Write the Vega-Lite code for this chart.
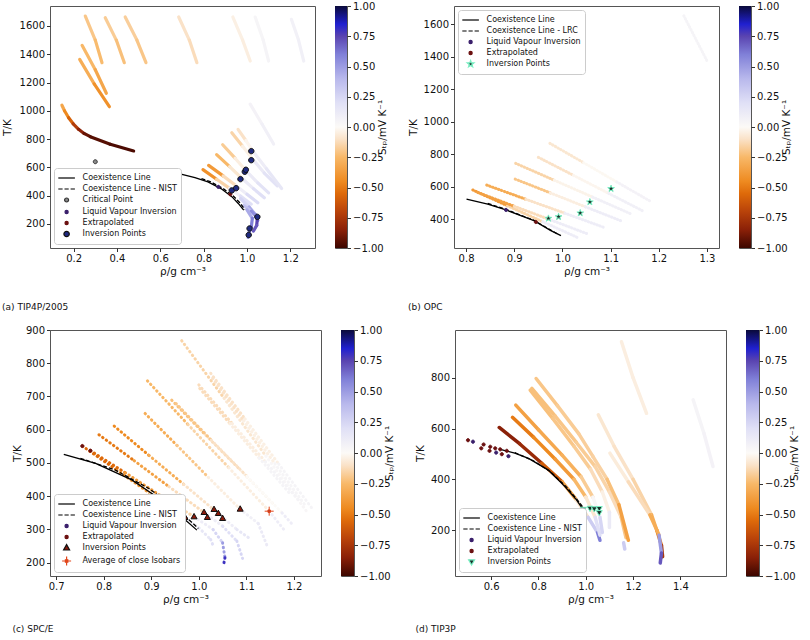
{
"$schema":"https://vega.github.io/schema/vega-lite/v6.json",
"background":"white",
"padding":{"left":1,"top":0,"right":0,"bottom":0},
"config":{
 "font":"DejaVu Sans",
 "view":{"stroke":"#555555","strokeWidth":1},
 "axis":{"grid":false,"domain":false,"labelFont":"DejaVu Sans","labelFontSize":10,"labelColor":"#111111","titleFont":"DejaVu Sans","titleFontSize":10.5,"titleFontWeight":"normal","titleColor":"#111111","tickColor":"#333333","tickSize":3.5,"labelPadding":2,"labelFlush":false,"labelOverlap":false},
 "axisX":{"titlePadding":3},
 "axisY":{"titlePadding":5},
 "legend":{"orient":"bottom-left","offset":4,"padding":4,"rowPadding":1,"fillColor":"white","strokeColor":"#cccccc","cornerRadius":3,"labelFont":"DejaVu Sans","labelFontSize":8,"labelColor":"#111111","labelOffset":10,"symbolOffset":2.6,"symbolSize":100,"symbolStrokeWidth":1.2,"labelLimit":300},
 "title":{"font":"DejaVu Sans","fontSize":9,"fontWeight":"normal","color":"#111111","orient":"bottom","anchor":"start","frame":"bounds","offset":26}
},
"datasets":{
 "isoA":[
  {"x":0.254,"y":1670,"x2":0.300,"y2":1500,"s":-0.2},{"x":0.300,"y":1500,"x2":0.331,"y2":1340,"s":-0.24},
  {"x":0.346,"y":1658,"x2":0.397,"y2":1500,"s":-0.18},{"x":0.397,"y":1500,"x2":0.434,"y2":1340,"s":-0.22},
  {"x":0.438,"y":1663,"x2":0.492,"y2":1500,"s":-0.17},{"x":0.492,"y":1500,"x2":0.534,"y2":1340,"s":-0.2},
  {"x":0.685,"y":1663,"x2":0.734,"y2":1500,"s":-0.1},{"x":0.734,"y":1500,"x2":0.769,"y2":1340,"s":-0.12},
  {"x":0.935,"y":1663,"x2":0.98,"y2":1500,"s":-0.04},{"x":0.98,"y":1500,"x2":1.015,"y2":1352,"s":-0.05},
  {"x":1.038,"y":1663,"x2":1.075,"y2":1500,"s":0.04},{"x":1.075,"y":1500,"x2":1.10,"y2":1352,"s":0.05},
  {"x":1.205,"y":1647,"x2":1.238,"y2":1500,"s":0.07},{"x":1.238,"y":1500,"x2":1.262,"y2":1352,"s":0.08},
  {"x":0.239,"y":1463,"x2":0.30,"y2":1290,"s":-0.25},{"x":0.30,"y":1290,"x2":0.351,"y2":1124,"s":-0.33},
  {"x":0.228,"y":1364,"x2":0.295,"y2":1190,"s":-0.3},{"x":0.295,"y":1190,"x2":0.365,"y2":1029,"s":-0.42},
  {"x":0.146,"y":1039,"x2":0.158,"y2":1000,"s":-0.33},{"x":0.158,"y":1000,"x2":0.177,"y2":951,"s":-0.45},
  {"x":0.177,"y":951,"x2":0.198,"y2":908,"s":-0.58},{"x":0.198,"y":908,"x2":0.223,"y2":869,"s":-0.72},
  {"x":0.223,"y":869,"x2":0.248,"y2":840,"s":-0.84},{"x":0.248,"y":840,"x2":0.277,"y2":817,"s":-0.92},
  {"x":0.277,"y":817,"x2":0.369,"y2":763,"s":-0.95},{"x":0.369,"y":763,"x2":0.477,"y2":716,"s":-0.97},
  {"x":0.797,"y":584,"x2":0.86,"y2":516,"s":-0.42},{"x":0.86,"y":516,"x2":0.92,"y2":452,"s":-0.15},{"x":0.92,"y":452,"x2":0.97,"y2":398,"s":0.08},{"x":0.97,"y":398,"x2":1.02,"y2":340,"s":0.2},
  {"x":0.823,"y":614,"x2":0.89,"y2":540,"s":-0.38},{"x":0.89,"y":540,"x2":0.95,"y2":470,"s":-0.12},{"x":0.95,"y":470,"x2":1.0,"y2":410,"s":0.1},{"x":1.0,"y":410,"x2":1.05,"y2":350,"s":0.22},
  {"x":0.86,"y":690,"x2":0.92,"y2":605,"s":-0.25},{"x":0.92,"y":605,"x2":0.975,"y2":525,"s":-0.08},{"x":0.975,"y":525,"x2":1.03,"y2":450,"s":0.12},{"x":1.03,"y":450,"x2":1.08,"y2":385,"s":0.2},
  {"x":0.888,"y":760,"x2":0.945,"y2":665,"s":-0.18},{"x":0.945,"y":665,"x2":0.995,"y2":578,"s":-0.05},{"x":0.995,"y":578,"x2":1.05,"y2":490,"s":0.12},{"x":1.05,"y":490,"x2":1.10,"y2":420,"s":0.18},
  {"x":0.93,"y":845,"x2":0.98,"y2":750,"s":-0.15},{"x":0.98,"y":750,"x2":1.025,"y2":660,"s":-0.04},{"x":1.025,"y":660,"x2":1.08,"y2":560,"s":0.12},{"x":1.08,"y":560,"x2":1.14,"y2":470,"s":0.18},
  {"x":0.959,"y":869,"x2":0.995,"y2":790,"s":-0.1},{"x":0.995,"y":790,"x2":1.025,"y2":720,"s":-0.02},{"x":1.025,"y":720,"x2":1.09,"y2":590,"s":0.1},{"x":1.09,"y":590,"x2":1.16,"y2":450,"s":0.15},
  {"x":1.015,"y":1047,"x2":1.07,"y2":905,"s":0.06},{"x":1.07,"y":905,"x2":1.123,"y2":765,"s":0.08},
  {"x":0.97,"y":380,"x2":1.01,"y2":320,"s":0.25},{"x":1.01,"y":320,"x2":1.04,"y2":265,"s":0.45},{"x":1.04,"y":265,"x2":1.05,"y2":225,"s":0.6},
  {"x":0.985,"y":330,"x2":1.02,"y2":290,"s":0.35},{"x":1.02,"y":290,"x2":1.048,"y2":245,"s":0.55},{"x":1.048,"y":245,"x2":1.045,"y2":190,"s":0.75},{"x":1.045,"y":190,"x2":1.03,"y2":150,"s":0.7},
  {"x":1.0,"y":300,"x2":1.025,"y2":240,"s":0.45},{"x":1.025,"y":240,"x2":1.02,"y2":180,"s":0.6},{"x":1.02,"y":180,"x2":1.01,"y2":140,"s":0.65},{"x":1.01,"y":140,"x2":1.005,"y2":105,"s":0.55}
 ],
 "coexA":[
  {"k":"s","x":0.70,"y":551},{"k":"s","x":0.76,"y":528},{"k":"s","x":0.82,"y":498},{"k":"s","x":0.88,"y":450},{"k":"s","x":0.93,"y":393},{"k":"s","x":0.96,"y":345},{"k":"s","x":0.985,"y":298},
  {"k":"d","x":0.79,"y":520},{"k":"d","x":0.83,"y":500},{"k":"d","x":0.89,"y":450},{"k":"d","x":0.937,"y":398},{"k":"d","x":0.967,"y":350},{"k":"d","x":0.99,"y":302}
 ],
 "ptsA":[
  {"series":"Critical Point","x":0.30,"y":640},
  {"series":"Liquid Vapour Inversion","x":0.868,"y":462},
  {"series":"Extrapolated","x":0.923,"y":410},
  {"series":"Inversion Points","x":0.93,"y":437},{"series":"Inversion Points","x":0.95,"y":453},{"series":"Inversion Points","x":0.97,"y":517},
  {"series":"Inversion Points","x":0.99,"y":569},{"series":"Inversion Points","x":0.995,"y":583},{"series":"Inversion Points","x":1.02,"y":651},
  {"series":"Inversion Points","x":1.02,"y":715},{"series":"Inversion Points","x":1.012,"y":168},{"series":"Inversion Points","x":1.008,"y":122},
  {"series":"Inversion Points","x":1.048,"y":250}
 ],
 "isoB":[
  {"x":0.814,"y":579,"x2":0.886,"y2":482,"s":-0.38},{"x":0.886,"y":482,"x2":0.959,"y2":384,"s":-0.15},{"x":0.959,"y":384,"x2":1.031,"y2":287,"s":0.1},
  {"x":0.824,"y":564,"x2":0.900,"y2":479,"s":-0.35},{"x":0.900,"y":479,"x2":0.977,"y2":393,"s":-0.12},{"x":0.977,"y":393,"x2":1.053,"y2":308,"s":0.1},
  {"x":0.843,"y":609,"x2":0.924,"y2":522,"s":-0.3},{"x":0.924,"y":522,"x2":1.005,"y2":436,"s":-0.1},{"x":1.005,"y":436,"x2":1.086,"y2":349,"s":0.1},
  {"x":0.902,"y":646,"x2":0.975,"y2":561,"s":-0.2},{"x":0.975,"y":561,"x2":1.048,"y2":475,"s":-0.05},{"x":1.048,"y":475,"x2":1.121,"y2":390,"s":0.1},
  {"x":0.903,"y":743,"x2":0.983,"y2":639,"s":-0.15},{"x":0.983,"y":639,"x2":1.063,"y2":535,"s":-0.03},{"x":1.063,"y":535,"x2":1.143,"y2":431,"s":0.08},
  {"x":0.950,"y":780,"x2":1.023,"y2":669,"s":-0.1},{"x":1.023,"y":669,"x2":1.096,"y2":558,"s":-0.02},{"x":1.096,"y":558,"x2":1.169,"y2":447,"s":0.08},
  {"x":0.974,"y":866,"x2":1.044,"y2":747,"s":-0.08},{"x":1.044,"y":747,"x2":1.113,"y2":628,"s":-0.01},{"x":1.113,"y":628,"x2":1.183,"y2":509,"s":0.06},
  {"x":1.252,"y":1651,"x2":1.30,"y2":1374,"s":0.05}
 ],
 "coexB":[
  {"k":"s","x":0.801,"y":523},{"k":"s","x":0.845,"y":492},{"k":"s","x":0.883,"y":456},{"k":"s","x":0.941,"y":390},{"k":"s","x":0.976,"y":329},{"k":"s","x":0.997,"y":298},
  {"k":"d","x":0.845,"y":496},{"k":"d","x":0.883,"y":459},{"k":"d","x":0.941,"y":392},{"k":"d","x":0.976,"y":332},{"k":"d","x":0.99,"y":308}
 ],
 "ptsB":[
  {"series":"Liquid Vapour Inversion","x":0.883,"y":456},
  {"series":"Extrapolated","x":0.945,"y":382},
  {"series":"Inversion Points","x":0.971,"y":404},{"series":"Inversion Points","x":0.992,"y":414},{"series":"Inversion Points","x":1.037,"y":437},
  {"series":"Inversion Points","x":1.057,"y":505},{"series":"Inversion Points","x":1.101,"y":587}
 ],
 "isoC":[
  {"x":0.755,"y":551,"x2":0.827,"y2":479,"s":-0.55},{"x":0.827,"y":479,"x2":0.898,"y2":408,"s":-0.4},{"x":0.898,"y":408,"x2":0.97,"y2":336,"s":-0.15},{"x":0.97,"y":336,"x2":1.0,"y2":305,"s":0.08},{"x":1.0,"y":305,"x2":1.025,"y2":270,"s":0.15},{"x":1.025,"y":270,"x2":1.031,"y2":248,"s":0.2},
  {"x":0.772,"y":537,"x2":0.845,"y2":471,"s":-0.55},{"x":0.845,"y":471,"x2":0.917,"y2":404,"s":-0.38},{"x":0.917,"y":404,"x2":0.99,"y2":338,"s":-0.15},{"x":0.99,"y":338,"x2":1.03,"y2":300,"s":0.1},{"x":1.03,"y":300,"x2":1.05,"y2":260,"s":0.25},{"x":1.05,"y":260,"x2":1.055,"y2":215,"s":0.5},{"x":1.055,"y":215,"x2":1.052,"y2":193,"s":0.8},
  {"x":0.790,"y":585,"x2":0.864,"y2":507,"s":-0.5},{"x":0.864,"y":507,"x2":0.937,"y2":429,"s":-0.35},{"x":0.937,"y":429,"x2":1.011,"y2":351,"s":-0.12},{"x":1.011,"y":351,"x2":1.05,"y2":310,"s":0.1},{"x":1.05,"y":310,"x2":1.08,"y2":265,"s":0.2},{"x":1.08,"y":265,"x2":1.092,"y2":213,"s":0.25},
  {"x":0.822,"y":611,"x2":0.895,"y2":523,"s":-0.45},{"x":0.895,"y":523,"x2":0.968,"y2":436,"s":-0.3},{"x":0.968,"y":436,"x2":1.041,"y2":348,"s":-0.1},{"x":1.041,"y":348,"x2":1.08,"y2":300,"s":0.1},{"x":1.08,"y":300,"x2":1.11,"y2":270,"s":0.15},
  {"x":0.887,"y":649,"x2":0.954,"y2":553,"s":-0.3},{"x":0.954,"y":553,"x2":1.020,"y2":457,"s":-0.2},{"x":1.020,"y":457,"x2":1.087,"y2":361,"s":-0.05},{"x":1.087,"y":361,"x2":1.125,"y2":318,"s":0.08},{"x":1.125,"y":318,"x2":1.143,"y2":253,"s":0.12},
  {"x":0.892,"y":747,"x2":0.977,"y2":616,"s":-0.25},{"x":0.977,"y":616,"x2":1.063,"y2":486,"s":-0.15},{"x":1.063,"y":486,"x2":1.148,"y2":355,"s":-0.05},{"x":1.148,"y":355,"x2":1.181,"y2":296,"s":0.1},
  {"x":0.943,"y":689,"x2":1.015,"y2":583,"s":-0.22},{"x":1.015,"y":583,"x2":1.088,"y2":478,"s":-0.12},{"x":1.088,"y":478,"x2":1.16,"y2":372,"s":-0.03},
  {"x":0.952,"y":679,"x2":1.026,"y2":569,"s":-0.2},{"x":1.026,"y":569,"x2":1.101,"y2":460,"s":-0.1},{"x":1.101,"y":460,"x2":1.175,"y2":350,"s":0.0},{"x":1.175,"y":350,"x2":1.20,"y2":310,"s":0.1},
  {"x":0.964,"y":868,"x2":1.053,"y2":695,"s":-0.15},{"x":1.053,"y":695,"x2":1.141,"y2":521,"s":-0.08},{"x":1.141,"y":521,"x2":1.23,"y2":348,"s":0.03},
  {"x":1.0,"y":735,"x2":1.07,"y2":619,"s":-0.12},{"x":1.07,"y":619,"x2":1.14,"y2":504,"s":-0.05},{"x":1.14,"y":504,"x2":1.21,"y2":388,"s":0.05},
  {"x":1.002,"y":724,"x2":1.065,"y2":619,"s":-0.12},{"x":1.065,"y":619,"x2":1.127,"y2":515,"s":-0.05},{"x":1.127,"y":515,"x2":1.19,"y2":410,"s":0.05},
  {"x":1.025,"y":770,"x2":1.097,"y2":633,"s":-0.1},{"x":1.097,"y":633,"x2":1.168,"y2":497,"s":-0.04},{"x":1.168,"y":497,"x2":1.24,"y2":360,"s":0.05},
  {"x":1.029,"y":755,"x2":1.094,"y2":627,"s":-0.1},{"x":1.094,"y":627,"x2":1.16,"y2":498,"s":-0.04},{"x":1.16,"y":498,"x2":1.225,"y2":370,"s":0.04}
 ],
 "coexC":[
  {"k":"s","x":0.716,"y":526},{"k":"s","x":0.783,"y":499},{"k":"s","x":0.859,"y":449},{"k":"s","x":0.922,"y":388},{"k":"s","x":0.964,"y":338},{"k":"s","x":0.996,"y":298},
  {"k":"d","x":0.751,"y":514},{"k":"d","x":0.824,"y":479},{"k":"d","x":0.894,"y":424},{"k":"d","x":0.957,"y":359},{"k":"d","x":0.999,"y":303}
 ],
 "ptsC":[
  {"series":"Liquid Vapour Inversion","x":0.919,"y":397},
  {"series":"Extrapolated","x":0.755,"y":551},{"series":"Extrapolated","x":0.772,"y":537},
  {"series":"Inversion Points","x":0.971,"y":336},{"series":"Inversion Points","x":0.990,"y":338},{"series":"Inversion Points","x":1.011,"y":351},
  {"series":"Inversion Points","x":1.018,"y":336},{"series":"Inversion Points","x":1.032,"y":360},{"series":"Inversion Points","x":1.041,"y":348},
  {"series":"Inversion Points","x":1.050,"y":333},{"series":"Inversion Points","x":1.087,"y":361},
  {"series":"Average of close Isobars","x":1.148,"y":355}
 ],
 "isoD":[
  {"x":0.634,"y":604,"x2":0.72,"y2":540,"s":-0.85},{"x":0.72,"y":540,"x2":0.814,"y2":463,"s":-0.8},{"x":0.814,"y":463,"x2":0.90,"y2":390,"s":-0.6},{"x":0.90,"y":390,"x2":0.96,"y2":320,"s":-0.35},{"x":0.96,"y":320,"x2":1.01,"y2":250,"s":-0.1},{"x":1.01,"y":250,"x2":1.05,"y2":190,"s":0.3},{"x":1.05,"y":190,"x2":1.06,"y2":160,"s":0.6},
  {"x":0.690,"y":644,"x2":0.78,"y2":565,"s":-0.5},{"x":0.78,"y":565,"x2":0.87,"y2":480,"s":-0.45},{"x":0.87,"y":480,"x2":0.95,"y2":400,"s":-0.38},{"x":0.95,"y":400,"x2":1.0,"y2":330,"s":-0.25},{"x":1.0,"y":330,"x2":1.04,"y2":250,"s":-0.08},{"x":1.04,"y":250,"x2":1.06,"y2":180,"s":0.2},
  {"x":0.704,"y":692,"x2":0.80,"y2":595,"s":-0.35},{"x":0.80,"y":595,"x2":0.90,"y2":495,"s":-0.32},{"x":0.90,"y":495,"x2":0.98,"y2":410,"s":-0.28},{"x":0.98,"y":410,"x2":1.03,"y2":330,"s":-0.18},{"x":1.03,"y":330,"x2":1.06,"y2":250,"s":0.03},{"x":1.06,"y":250,"x2":1.07,"y2":190,"s":0.25},
  {"x":0.765,"y":751,"x2":0.86,"y2":640,"s":-0.22},{"x":0.86,"y":640,"x2":0.95,"y2":530,"s":-0.2},{"x":0.95,"y":530,"x2":1.02,"y2":440,"s":-0.18},{"x":1.02,"y":440,"x2":1.07,"y2":350,"s":-0.12},{"x":1.07,"y":350,"x2":1.10,"y2":270,"s":-0.04},{"x":1.10,"y":270,"x2":1.10,"y2":210,"s":0.12},
  {"x":0.772,"y":758,"x2":0.87,"y2":650,"s":-0.22},{"x":0.87,"y":650,"x2":0.96,"y2":545,"s":-0.2},{"x":0.96,"y":545,"x2":1.04,"y2":450,"s":-0.18},{"x":1.04,"y":450,"x2":1.10,"y2":350,"s":-0.15},{"x":1.10,"y":350,"x2":1.15,"y2":250,"s":-0.12},{"x":1.15,"y":250,"x2":1.17,"y2":170,"s":-0.2},
  {"x":0.790,"y":797,"x2":0.88,"y2":690,"s":-0.2},{"x":0.88,"y":690,"x2":0.97,"y2":580,"s":-0.18},{"x":0.97,"y":580,"x2":1.03,"y2":490,"s":-0.17},{"x":1.03,"y":490,"x2":1.09,"y2":400,"s":-0.16},{"x":1.09,"y":400,"x2":1.14,"y2":300,"s":-0.22},{"x":1.14,"y":300,"x2":1.18,"y2":160,"s":-0.35},
  {"x":1.16,"y":150,"x2":1.165,"y2":125,"s":0.3},
  {"x":1.053,"y":654,"x2":1.12,"y2":530,"s":-0.08},{"x":1.12,"y":530,"x2":1.2,"y2":400,"s":-0.1},{"x":1.2,"y":400,"x2":1.278,"y2":260,"s":-0.15},{"x":1.278,"y":260,"x2":1.30,"y2":200,"s":-0.3},{"x":1.30,"y":200,"x2":1.32,"y2":140,"s":-0.5},{"x":1.32,"y":140,"x2":1.325,"y2":95,"s":-0.75},
  {"x":1.102,"y":503,"x2":1.18,"y2":390,"s":-0.06},{"x":1.18,"y":390,"x2":1.271,"y2":260,"s":-0.12},{"x":1.271,"y":260,"x2":1.31,"y2":180,"s":-0.3},{"x":1.31,"y":180,"x2":1.32,"y2":110,"s":0.5},{"x":1.32,"y":110,"x2":1.315,"y2":70,"s":0.7},
  {"x":1.151,"y":942,"x2":1.2,"y2":800,"s":-0.05},{"x":1.2,"y":800,"x2":1.257,"y2":660,"s":-0.05},
  {"x":1.454,"y":713,"x2":1.50,"y2":580,"s":0.05},{"x":1.50,"y":580,"x2":1.538,"y2":450,"s":0.06}
 ],
 "coexD":[
  {"k":"s","x":0.638,"y":518},{"k":"s","x":0.70,"y":503},{"k":"s","x":0.758,"y":482},{"k":"s","x":0.842,"y":436},{"k":"s","x":0.912,"y":371},{"k":"s","x":0.96,"y":320},{"k":"s","x":0.99,"y":279},
  {"k":"d","x":0.70,"y":505},{"k":"d","x":0.78,"y":472},{"k":"d","x":0.85,"y":430},{"k":"d","x":0.92,"y":368},{"k":"d","x":0.965,"y":318},{"k":"d","x":0.995,"y":281}
 ],
 "ptsD":[
  {"series":"Extrapolated","x":0.502,"y":554},{"series":"Extrapolated","x":0.568,"y":537},{"series":"Extrapolated","x":0.596,"y":528},
  {"series":"Extrapolated","x":0.617,"y":522},{"series":"Extrapolated","x":0.638,"y":518},{"series":"Extrapolated","x":0.666,"y":512},
  {"series":"Extrapolated","x":0.558,"y":522},{"series":"Extrapolated","x":0.593,"y":512},{"series":"Extrapolated","x":0.645,"y":499},
  {"series":"Liquid Vapour Inversion","x":0.523,"y":548},{"series":"Liquid Vapour Inversion","x":0.621,"y":505},{"series":"Liquid Vapour Inversion","x":0.673,"y":491},
  {"series":"Inversion Points","x":0.99,"y":281},{"series":"Inversion Points","x":1.018,"y":285},{"series":"Inversion Points","x":1.036,"y":283},
  {"series":"Inversion Points","x":1.057,"y":284},{"series":"Inversion Points","x":1.057,"y":268}
 ]
},
"resolve":{"scale":{"color":"independent","shape":"independent","fill":"independent","stroke":"independent"},"legend":{"color":"independent","shape":"independent","fill":"independent","stroke":"independent"}},
"spacing":11,
"vconcat":[
 {"spacing":18,
  "resolve":{"scale":{"color":"independent","shape":"independent","fill":"independent","stroke":"independent"},"legend":{"color":"independent","shape":"independent","fill":"independent","stroke":"independent"}},
  "hconcat":[
  {"width":265,"height":242,
   "title":{"text":"(a) TIP4P/2005"},
   "encoding":{
    "x":{"field":"x","type":"quantitative","scale":{"domain":[0.091,1.314],"nice":false,"zero":false},"axis":{"title":"ρ/g cm⁻³","values":[0.2,0.4,0.6,0.8,1.0,1.2],"format":".1f"}},
    "y":{"field":"y","type":"quantitative","scale":{"domain":[30,1741],"nice":false,"zero":false},"axis":{"title":"T/K","titlePadding":7,"values":[200,400,600,800,1000,1200,1400,1600],"format":"d"}}
   },
   "layer":[
    {"data":{"name":"isoA"},"mark":{"type":"rule","strokeWidth":3.2,"strokeCap":"round","clip":true},
     "encoding":{"x2":{"field":"x2"},"y2":{"field":"y2"},
      "color":{"field":"s","type":"quantitative","legend":null,"scale":{"domain":[-1,-0.85,-0.7,-0.55,-0.45,-0.25,-0.1,0,0.2,0.4,0.6,0.75,0.85,1],"range":["#3c0600","#8a2008","#b8420a","#de6a0a","#ee8a20","#f8b868","#fae2c8","#fcfaf7","#e0e0f6","#b8b8ec","#8080d8","#5a44b0","#2020d0","#0a0a3a"],"interpolate":"rgb","clamp":true}}}},
    {"data":{"name":"coexA"},"transform":[{"filter":"datum.k == 's'"}],"mark":{"type":"line","color":"#000000","strokeWidth":1.3},"encoding":{}},
    {"data":{"name":"coexA"},"transform":[{"filter":"datum.k == 'd'"}],"mark":{"type":"line","color":"#000000","strokeWidth":1.3,"strokeDash":[4,2]},"encoding":{}},
    {"data":{"name":"ptsA"},"mark":{"type":"point","filled":true,"size":100,"strokeWidth":1,"opacity":1},
     "encoding":{
      "shape":{"field":"series","type":"nominal","legend":{"title":null,"orient":"bottom-left"},"scale":{"domain":["Coexistence Line","Coexistence Line - NIST","Critical Point","Liquid Vapour Inversion","Extrapolated","Inversion Points"],"range":["M-1.66,0H1.66","M-1.66,0H-0.8M-0.42,0H0.42M0.8,0H1.66","M-0.4,0A0.4,0.4,0,1,1,0.4,0A0.4,0.4,0,1,1,-0.4,0Z","M-0.32,0A0.32,0.32,0,1,1,0.32,0A0.32,0.32,0,1,1,-0.32,0Z","M-0.32,0A0.32,0.32,0,1,1,0.32,0A0.32,0.32,0,1,1,-0.32,0Z","M-0.54,0A0.54,0.54,0,1,1,0.54,0A0.54,0.54,0,1,1,-0.54,0Z"]}},
      "fill":{"field":"series","type":"nominal","legend":{"title":null,"orient":"bottom-left"},"scale":{"domain":["Coexistence Line","Coexistence Line - NIST","Critical Point","Liquid Vapour Inversion","Extrapolated","Inversion Points"],"range":["transparent","transparent","#8a8a8a","#3a1f6b","#6b1010","#1f2a80"]}},
      "stroke":{"field":"series","type":"nominal","legend":{"title":null,"orient":"bottom-left"},"scale":{"domain":["Coexistence Line","Coexistence Line - NIST","Critical Point","Liquid Vapour Inversion","Extrapolated","Inversion Points"],"range":["#000000","#000000","#333333","#3a1f6b","#6b1010","#111111"]}}
     }}
   ]},
  {"width":12,"height":242,"data":{"values":[{"lo":-1,"hi":1}]},
   "mark":{"type":"rect","fill":{"gradient":"linear","x1":0,"y1":1,"x2":0,"y2":0,"stops":[{"offset":0,"color":"#3c0600"},{"offset":0.075,"color":"#8a2008"},{"offset":0.15,"color":"#b8420a"},{"offset":0.225,"color":"#de6a0a"},{"offset":0.275,"color":"#ee8a20"},{"offset":0.375,"color":"#f8b868"},{"offset":0.45,"color":"#fae2c8"},{"offset":0.5,"color":"#fcfaf7"},{"offset":0.6,"color":"#e0e0f6"},{"offset":0.7,"color":"#b8b8ec"},{"offset":0.8,"color":"#8080d8"},{"offset":0.875,"color":"#5a44b0"},{"offset":0.925,"color":"#2020d0"},{"offset":1,"color":"#0a0a3a"}]}},
   "encoding":{"y":{"field":"lo","type":"quantitative","scale":{"domain":[-1,1],"nice":false,"zero":false},"axis":{"orient":"right","values":[-1,-0.75,-0.5,-0.25,0,0.25,0.5,0.75,1],"format":".2f","title":"Sₜₚ/mV K⁻¹","titleAngle":270,"titlePadding":4}},"y2":{"field":"hi"}}},
  {"width":265,"height":242,
   "title":{"text":"(b) OPC"},
   "encoding":{
    "x":{"field":"x","type":"quantitative","scale":{"domain":[0.775,1.325],"nice":false,"zero":false},"axis":{"title":"ρ/g cm⁻³","values":[0.8,0.9,1.0,1.1,1.2,1.3],"format":".1f"}},
    "y":{"field":"y","type":"quantitative","scale":{"domain":[222,1711],"nice":false,"zero":false},"axis":{"title":"T/K","values":[400,600,800,1000,1200,1400,1600],"format":"d"}}
   },
   "layer":[
    {"data":{"name":"isoB"},"mark":{"type":"rule","strokeWidth":3,"strokeCap":"round","strokeDash":[0.5,2.6],"clip":true},
     "encoding":{"x2":{"field":"x2"},"y2":{"field":"y2"},
      "color":{"field":"s","type":"quantitative","legend":null,"scale":{"domain":[-1,-0.85,-0.7,-0.55,-0.45,-0.25,-0.1,0,0.2,0.4,0.6,0.75,0.85,1],"range":["#3c0600","#8a2008","#b8420a","#de6a0a","#ee8a20","#f8b868","#fae2c8","#fcfaf7","#e0e0f6","#b8b8ec","#8080d8","#5a44b0","#2020d0","#0a0a3a"],"interpolate":"rgb","clamp":true}}}},
    {"data":{"name":"coexB"},"transform":[{"filter":"datum.k == 's'"}],"mark":{"type":"line","color":"#000000","strokeWidth":1.3},"encoding":{}},
    {"data":{"name":"coexB"},"transform":[{"filter":"datum.k == 'd'"}],"mark":{"type":"line","color":"#000000","strokeWidth":1.3,"strokeDash":[4,2]},"encoding":{}},
    {"data":{"name":"ptsB"},"mark":{"type":"point","filled":true,"size":100,"strokeWidth":1,"opacity":1},
     "encoding":{
      "shape":{"field":"series","type":"nominal","legend":{"title":null,"orient":"top-left"},"scale":{"domain":["Coexistence Line","Coexistence Line - LRC","Liquid Vapour Inversion","Extrapolated","Inversion Points"],"range":["M-1.66,0H1.66","M-1.66,0H-0.8M-0.42,0H0.42M0.8,0H1.66","M-0.32,0A0.32,0.32,0,1,1,0.32,0A0.32,0.32,0,1,1,-0.32,0Z","M-0.32,0A0.32,0.32,0,1,1,0.32,0A0.32,0.32,0,1,1,-0.32,0Z","M0,-0.7L0.164,-0.226L0.666,-0.216L0.266,0.086L0.412,0.566L0,0.28L-0.412,0.566L-0.266,0.086L-0.666,-0.216L-0.164,-0.226Z"]}},
      "fill":{"field":"series","type":"nominal","legend":{"title":null,"orient":"top-left"},"scale":{"domain":["Coexistence Line","Coexistence Line - LRC","Liquid Vapour Inversion","Extrapolated","Inversion Points"],"range":["transparent","transparent","#3a1f6b","#6b1010","#1b2f2a"]}},
      "stroke":{"field":"series","type":"nominal","legend":{"title":null,"orient":"top-left"},"scale":{"domain":["Coexistence Line","Coexistence Line - LRC","Liquid Vapour Inversion","Extrapolated","Inversion Points"],"range":["#000000","#000000","#3a1f6b","#6b1010","#7af0c4"]}}
     }}
   ]},
  {"width":12,"height":242,"data":{"values":[{"lo":-1,"hi":1}]},
   "mark":{"type":"rect","fill":{"gradient":"linear","x1":0,"y1":1,"x2":0,"y2":0,"stops":[{"offset":0,"color":"#3c0600"},{"offset":0.075,"color":"#8a2008"},{"offset":0.15,"color":"#b8420a"},{"offset":0.225,"color":"#de6a0a"},{"offset":0.275,"color":"#ee8a20"},{"offset":0.375,"color":"#f8b868"},{"offset":0.45,"color":"#fae2c8"},{"offset":0.5,"color":"#fcfaf7"},{"offset":0.6,"color":"#e0e0f6"},{"offset":0.7,"color":"#b8b8ec"},{"offset":0.8,"color":"#8080d8"},{"offset":0.875,"color":"#5a44b0"},{"offset":0.925,"color":"#2020d0"},{"offset":1,"color":"#0a0a3a"}]}},
   "encoding":{"y":{"field":"lo","type":"quantitative","scale":{"domain":[-1,1],"nice":false,"zero":false},"axis":{"orient":"right","values":[-1,-0.75,-0.5,-0.25,0,0.25,0.5,0.75,1],"format":".2f","title":"Sₜₚ/mV K⁻¹","titleAngle":270,"titlePadding":4}},"y2":{"field":"hi"}}}
 ]},
 {"spacing":18,
  "resolve":{"scale":{"color":"independent","shape":"independent","fill":"independent","stroke":"independent"},"legend":{"color":"independent","shape":"independent","fill":"independent","stroke":"independent"}},
  "hconcat":[
  {"width":271,"height":246,
   "title":{"text":"(c) SPC/E","offset":20},
   "encoding":{
    "x":{"field":"x","type":"quantitative","scale":{"domain":[0.687,1.257],"nice":false,"zero":false},"axis":{"title":"ρ/g cm⁻³","values":[0.7,0.8,0.9,1.0,1.1,1.2],"format":".1f"}},
    "y":{"field":"y","type":"quantitative","scale":{"domain":[160,900],"nice":false,"zero":false},"axis":{"title":"T/K","titlePadding":3,"values":[200,300,400,500,600,700,800,900],"format":"d"}}
   },
   "layer":[
    {"data":{"name":"isoC"},"mark":{"type":"rule","strokeWidth":3,"strokeCap":"round","strokeDash":[0.5,4],"clip":true},
     "encoding":{"x2":{"field":"x2"},"y2":{"field":"y2"},
      "color":{"field":"s","type":"quantitative","legend":null,"scale":{"domain":[-1,-0.85,-0.7,-0.55,-0.45,-0.25,-0.1,0,0.2,0.4,0.6,0.75,0.85,1],"range":["#3c0600","#8a2008","#b8420a","#de6a0a","#ee8a20","#f8b868","#fae2c8","#fcfaf7","#e0e0f6","#b8b8ec","#8080d8","#5a44b0","#2020d0","#0a0a3a"],"interpolate":"rgb","clamp":true}}}},
    {"data":{"name":"coexC"},"transform":[{"filter":"datum.k == 's'"}],"mark":{"type":"line","color":"#000000","strokeWidth":1.3},"encoding":{}},
    {"data":{"name":"coexC"},"transform":[{"filter":"datum.k == 'd'"}],"mark":{"type":"line","color":"#000000","strokeWidth":1.3,"strokeDash":[4,2]},"encoding":{}},
    {"data":{"name":"ptsC"},"mark":{"type":"point","filled":true,"size":100,"strokeWidth":1,"opacity":1},
     "encoding":{
      "shape":{"field":"series","type":"nominal","legend":{"title":null,"orient":"bottom-left"},"scale":{"domain":["Coexistence Line","Coexistence Line - NIST","Liquid Vapour Inversion","Extrapolated","Inversion Points","Average of close Isobars"],"range":["M-1.66,0H1.66","M-1.66,0H-0.8M-0.42,0H0.42M0.8,0H1.66","M-0.32,0A0.32,0.32,0,1,1,0.32,0A0.32,0.32,0,1,1,-0.32,0Z","M-0.32,0A0.32,0.32,0,1,1,0.32,0A0.32,0.32,0,1,1,-0.32,0Z","M0,-0.68L0.6,0.4L-0.6,0.4Z","M-0.9,0H0.9M0,-0.9V0.9M-0.24,-0.24H0.24V0.24H-0.24Z"]}},
      "fill":{"field":"series","type":"nominal","legend":{"title":null,"orient":"bottom-left"},"scale":{"domain":["Coexistence Line","Coexistence Line - NIST","Liquid Vapour Inversion","Extrapolated","Inversion Points","Average of close Isobars"],"range":["transparent","transparent","#3a1f6b","#6b1010","#8b1a0a","#15157a"]}},
      "stroke":{"field":"series","type":"nominal","legend":{"title":null,"orient":"bottom-left"},"scale":{"domain":["Coexistence Line","Coexistence Line - NIST","Liquid Vapour Inversion","Extrapolated","Inversion Points","Average of close Isobars"],"range":["#000000","#000000","#3a1f6b","#6b1010","#111111","#e2461a"]}}
     }}
   ]},
  {"width":13,"height":246,"data":{"values":[{"lo":-1,"hi":1}]},
   "mark":{"type":"rect","fill":{"gradient":"linear","x1":0,"y1":1,"x2":0,"y2":0,"stops":[{"offset":0,"color":"#3c0600"},{"offset":0.075,"color":"#8a2008"},{"offset":0.15,"color":"#b8420a"},{"offset":0.225,"color":"#de6a0a"},{"offset":0.275,"color":"#ee8a20"},{"offset":0.375,"color":"#f8b868"},{"offset":0.45,"color":"#fae2c8"},{"offset":0.5,"color":"#fcfaf7"},{"offset":0.6,"color":"#e0e0f6"},{"offset":0.7,"color":"#b8b8ec"},{"offset":0.8,"color":"#8080d8"},{"offset":0.875,"color":"#5a44b0"},{"offset":0.925,"color":"#2020d0"},{"offset":1,"color":"#0a0a3a"}]}},
   "encoding":{"y":{"field":"lo","type":"quantitative","scale":{"domain":[-1,1],"nice":false,"zero":false},"axis":{"orient":"right","values":[-1,-0.75,-0.5,-0.25,0,0.25,0.5,0.75,1],"format":".2f","title":"Sₜₚ/mV K⁻¹","titleAngle":270,"titlePadding":4}},"y2":{"field":"hi"}}},
  {"width":271,"height":246,
   "title":{"text":"(d) TIP3P","offset":20},
   "encoding":{
    "x":{"field":"x","type":"quantitative","scale":{"domain":[0.447,1.593],"nice":false,"zero":false},"axis":{"title":"ρ/g cm⁻³","values":[0.6,0.8,1.0,1.2,1.4],"format":".1f"}},
    "y":{"field":"y","type":"quantitative","scale":{"domain":[19,988],"nice":false,"zero":false},"axis":{"title":"T/K","values":[200,400,600,800],"format":"d"}}
   },
   "layer":[
    {"data":{"name":"isoD"},"mark":{"type":"rule","strokeWidth":3.5,"strokeCap":"round","clip":true},
     "encoding":{"x2":{"field":"x2"},"y2":{"field":"y2"},
      "color":{"field":"s","type":"quantitative","legend":null,"scale":{"domain":[-1,-0.85,-0.7,-0.55,-0.45,-0.25,-0.1,0,0.2,0.4,0.6,0.75,0.85,1],"range":["#3c0600","#8a2008","#b8420a","#de6a0a","#ee8a20","#f8b868","#fae2c8","#fcfaf7","#e0e0f6","#b8b8ec","#8080d8","#5a44b0","#2020d0","#0a0a3a"],"interpolate":"rgb","clamp":true}}}},
    {"data":{"name":"coexD"},"transform":[{"filter":"datum.k == 's'"}],"mark":{"type":"line","color":"#000000","strokeWidth":1.3},"encoding":{}},
    {"data":{"name":"coexD"},"transform":[{"filter":"datum.k == 'd'"}],"mark":{"type":"line","color":"#000000","strokeWidth":1.3,"strokeDash":[4,2]},"encoding":{}},
    {"data":{"name":"ptsD"},"mark":{"type":"point","filled":true,"size":100,"strokeWidth":1,"opacity":1},
     "encoding":{
      "shape":{"field":"series","type":"nominal","legend":{"title":null,"orient":"bottom-left"},"scale":{"domain":["Coexistence Line","Coexistence Line - NIST","Liquid Vapour Inversion","Extrapolated","Inversion Points"],"range":["M-1.66,0H1.66","M-1.66,0H-0.8M-0.42,0H0.42M0.8,0H1.66","M-0.32,0A0.32,0.32,0,1,1,0.32,0A0.32,0.32,0,1,1,-0.32,0Z","M-0.32,0A0.32,0.32,0,1,1,0.32,0A0.32,0.32,0,1,1,-0.32,0Z","M0,0.6L0.6,-0.44L-0.6,-0.44Z"]}},
      "fill":{"field":"series","type":"nominal","legend":{"title":null,"orient":"bottom-left"},"scale":{"domain":["Coexistence Line","Coexistence Line - NIST","Liquid Vapour Inversion","Extrapolated","Inversion Points"],"range":["transparent","transparent","#3a1f6b","#6b1010","#1b2f2a"]}},
      "stroke":{"field":"series","type":"nominal","legend":{"title":null,"orient":"bottom-left"},"scale":{"domain":["Coexistence Line","Coexistence Line - NIST","Liquid Vapour Inversion","Extrapolated","Inversion Points"],"range":["#000000","#000000","#3a1f6b","#6b1010","#7af0c4"]}}
     }}
   ]},
  {"width":13,"height":246,"data":{"values":[{"lo":-1,"hi":1}]},
   "mark":{"type":"rect","fill":{"gradient":"linear","x1":0,"y1":1,"x2":0,"y2":0,"stops":[{"offset":0,"color":"#3c0600"},{"offset":0.075,"color":"#8a2008"},{"offset":0.15,"color":"#b8420a"},{"offset":0.225,"color":"#de6a0a"},{"offset":0.275,"color":"#ee8a20"},{"offset":0.375,"color":"#f8b868"},{"offset":0.45,"color":"#fae2c8"},{"offset":0.5,"color":"#fcfaf7"},{"offset":0.6,"color":"#e0e0f6"},{"offset":0.7,"color":"#b8b8ec"},{"offset":0.8,"color":"#8080d8"},{"offset":0.875,"color":"#5a44b0"},{"offset":0.925,"color":"#2020d0"},{"offset":1,"color":"#0a0a3a"}]}},
   "encoding":{"y":{"field":"lo","type":"quantitative","scale":{"domain":[-1,1],"nice":false,"zero":false},"axis":{"orient":"right","values":[-1,-0.75,-0.5,-0.25,0,0.25,0.5,0.75,1],"format":".2f","title":"Sₜₚ/mV K⁻¹","titleAngle":270,"titlePadding":4}},"y2":{"field":"hi"}}}
 ]}
]
}
